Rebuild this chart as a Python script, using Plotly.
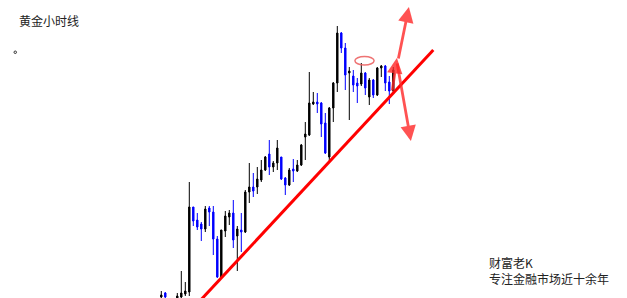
import plotly.graph_objects as go

# Hourly gold candles (price units arbitrary)
idx = list(range(59))
opens = [3, 7, -1, -7, 2, 3, 6, 8, 93, 80, 76, 71, 92, 88, 61, 23, 69, 83, 87, 64,
         70, 68, 108, 113, 113, 120, 130, 146, 133, 137, 143, 122, 115, 131, 129, 135, 163, 165, 196, 198,
         197, 177, 143, 192, 217, 267, 252, 227, 224, 217, 216, 227, 203, 220, 205, 232, 234, 218, 209]
highs = [9, 8, 0, 0, 7, 29, 18, 118, 93, 87, 78, 94, 94, 94, 64, 70, 89, 90, 100, 74,
         87, 110, 137, 127, 133, 140, 144, 160, 139, 160, 143, 123, 132, 141, 140, 156, 178, 228, 208, 207,
         198, 187, 193, 218, 274, 268, 257, 233, 230, 222, 237, 228, 222, 221, 233, 235, 235, 224, 233]
lows = [1, 1, -9, -10, -1, 1, 4, 4, 74, 70, 59, 68, 74, 45, 22, 22, 63, 75, 52, 29,
        48, 67, 97, 103, 106, 118, 129, 125, 128, 130, 120, 105, 114, 118, 128, 134, 140, 164, 195, 187,
        163, 146, 137, 178, 208, 247, 210, 180, 208, 197, 214, 205, 195, 202, 204, 223, 209, 196, 208]
closes = [5, 3, -6, -2, 4, 7, 9, 93, 79, 73, 71, 91, 88, 61, 23, 70, 84, 87, 60, 71,
          68, 108, 113, 109, 121, 130, 143, 133, 137, 152, 121, 115, 130, 129, 135, 155, 166, 197, 198, 196,
          176, 147, 192, 217, 267, 252, 225, 229, 215, 214, 227, 212, 220, 205, 232, 234, 217, 209, 230]

# Trend line end points (index, price)
trend_x = [9.4, 68.0]
trend_y = [-2, 250]

# Ellipse around the recent high (index, price)
ell_x = [48.4, 53.2]
ell_y = [235, 243.5]

# Arrows: (tail_x, tail_y, head_x, head_y)
arrows = [
    (59.2, 240, 61.9, 293),
    (58.9, 238, 62.4, 159),
    (57.7, 208, 58.9, 242),
]

title_text = "黄金小时线"
brand_text = "财富老K"
slogan_text = "专注金融市场近十余年"

W, H = 627, 298
fig = go.Figure()

fig.add_trace(go.Candlestick(
    x=idx, open=opens, high=highs, low=lows, close=closes,
    increasing=dict(line=dict(color="#000000", width=1), fillcolor="#000000"),
    decreasing=dict(line=dict(color="#0000ff", width=1), fillcolor="#0000ff"),
    whiskerwidth=0, hoverinfo="skip", showlegend=False,
))

fig.add_trace(go.Scatter(
    x=trend_x, y=trend_y, mode="lines",
    line=dict(color="#ff0000", width=3), hoverinfo="skip", showlegend=False,
))

fig.add_shape(type="circle", xref="x", yref="y",
              x0=ell_x[0], x1=ell_x[1], y0=ell_y[0], y1=ell_y[1],
              line=dict(color="rgba(235,90,90,0.85)", width=1.5))

for tx, ty, hx, hy in arrows:
    fig.add_annotation(x=hx, y=hy, ax=tx, ay=ty, xref="x", yref="y",
                       axref="x", ayref="y", text="", showarrow=True,
                       arrowhead=2, arrowsize=1.1, arrowwidth=2.8,
                       arrowcolor="rgba(255,40,40,0.8)")

font_cjk = "Noto Sans CJK SC, Microsoft YaHei, sans-serif"
fig.add_annotation(x=17 / W, y=1 - 21 / H, xref="paper", yref="paper",
                   text=title_text, showarrow=False, xanchor="left", yanchor="middle",
                   font=dict(family=font_cjk, size=12, color="#222222"))
fig.add_annotation(x=487 / W, y=1 - 262 / H, xref="paper", yref="paper",
                   text=brand_text, showarrow=False, xanchor="left", yanchor="middle",
                   font=dict(family=font_cjk, size=12, color="#222222"))
fig.add_annotation(x=487 / W, y=1 - 278 / H, xref="paper", yref="paper",
                   text=slogan_text, showarrow=False, xanchor="left", yanchor="middle",
                   font=dict(family=font_cjk, size=12, color="#222222"))

# tiny marker dot under the title
fig.add_shape(type="circle", xref="paper", yref="paper",
              x0=14 / W, x1=16.5 / W, y0=1 - 53.5 / H, y1=1 - 51 / H,
              line=dict(color="#333333", width=1))

# x: candle i at pixel 161.3 + 4*i ; y: price p at pixel 300 - p
x0 = -161.3 / 4
fig.update_layout(
    width=W, height=H,
    margin=dict(l=0, r=0, t=0, b=0),
    paper_bgcolor="white", plot_bgcolor="white",
    boxgap=0.5,
    hovermode=False,
    xaxis=dict(range=[x0, x0 + W / 4], visible=False, rangeslider=dict(visible=False),
               fixedrange=True),
    yaxis=dict(range=[2, 300], visible=False, fixedrange=True),
)

fig.write_html("out.html")
